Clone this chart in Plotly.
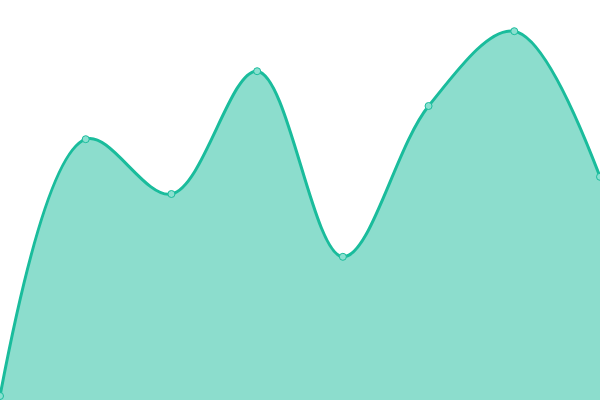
import plotly.graph_objects as go

x_values = [0, 1, 2, 3, 4, 5, 6, 7]
y_values = [1, 65.2, 51.5, 82.2, 35.8, 73.5, 92.2, 55.8]

line_color = '#1abc9c'

fig = go.Figure()
fig.add_trace(go.Scatter(
    x=x_values,
    y=y_values,
    mode='lines+markers',
    line=dict(color=line_color, width=3, shape='spline', smoothing=1.0),
    fill='tozeroy',
    fillcolor='rgba(26,188,156,0.5)',
    marker=dict(size=7, color='#8ae0d0', line=dict(color=line_color, width=1)),
    hoverinfo='x+y',
))

fig.update_layout(
    width=600,
    height=400,
    margin=dict(l=0, r=0, t=0, b=0),
    paper_bgcolor='white',
    plot_bgcolor='white',
    showlegend=False,
    xaxis=dict(range=[0, 7], visible=False, fixedrange=True),
    yaxis=dict(range=[0, 100], visible=False, fixedrange=True),
)

# drop the page's default body margin so the plot sits at 0,0
fig.write_html(
    "out.html",
    config={'displayModeBar': False},
    post_script="document.body.style.margin='0';document.body.style.overflow='hidden';",
)
